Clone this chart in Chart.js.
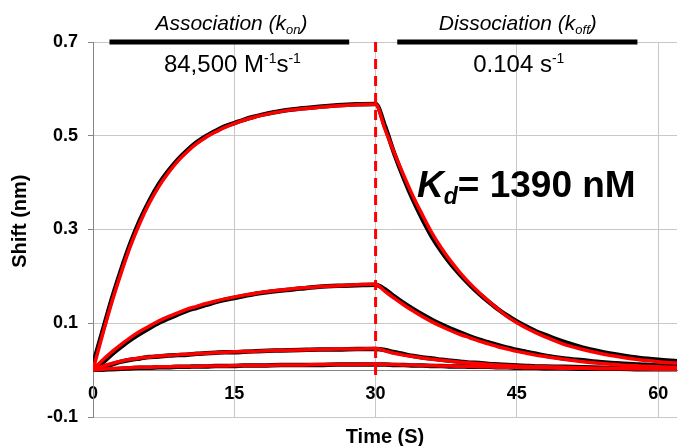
<!DOCTYPE html>
<html>
<head>
<meta charset="utf-8">
<script src="https://cdn.jsdelivr.net/npm/chart.js@4.4.1/dist/chart.umd.min.js"></script>
<style>
  html, body { margin: 0; padding: 0; background: #fff; }
</style>
</head>
<body>
<canvas id="kinetics" width="678" height="446"></canvas>
<script>
// time points (s)
const times = [0, 1, 2, 3, 4, 5, 6, 7, 8, 9, 10, 11, 12, 13, 14, 15, 16, 17, 18, 20, 22, 24, 26, 28, 30,
  31, 32, 33, 34, 35, 36, 37, 38, 39, 40, 41, 42, 43, 44, 45, 46, 47, 48,
  50, 52, 54, 56, 58, 60, 62];

// fitted curves (red), one per concentration
const fit1 = [0, 0.075, 0.145, 0.208, 0.266, 0.315, 0.357, 0.392, 0.421, 0.446, 0.466, 0.483, 0.497, 0.508, 0.518, 0.526, 0.533, 0.539, 0.544, 0.552, 0.557, 0.561, 0.564, 0.566, 0.567,
  0.514, 0.463, 0.415, 0.370, 0.330, 0.292, 0.260, 0.232, 0.207, 0.185, 0.165, 0.147, 0.130, 0.114, 0.101, 0.090, 0.080, 0.071,
  0.055, 0.044, 0.035, 0.028, 0.022, 0.018, 0.015];
const fit2 = [0, 0.021, 0.039, 0.055, 0.070, 0.083, 0.094, 0.105, 0.114, 0.122, 0.130, 0.136, 0.142, 0.147, 0.152, 0.156, 0.160, 0.163, 0.166, 0.171, 0.175, 0.178, 0.180, 0.182, 0.183,
  0.168, 0.153, 0.139, 0.126, 0.114, 0.103, 0.093, 0.084, 0.076, 0.069, 0.062, 0.056, 0.050, 0.045, 0.040, 0.036, 0.032, 0.029,
  0.023, 0.018, 0.014, 0.011, 0.009, 0.007, 0.006];
const fit3 = [0, 0.008, 0.014, 0.019, 0.023, 0.026, 0.028, 0.030, 0.031, 0.033, 0.034, 0.035, 0.036, 0.037, 0.038, 0.039, 0.040, 0.040, 0.041, 0.042, 0.043, 0.044, 0.045, 0.045, 0.046,
  0.041, 0.036, 0.032, 0.029, 0.026, 0.023, 0.021, 0.019, 0.017, 0.015, 0.014, 0.012, 0.011, 0.010, 0.009, 0.008, 0.007, 0.007,
  0.006, 0.005, 0.004, 0.004, 0.003, 0.003, 0.003];
const fit4 = [0, 0.002, 0.003, 0.004, 0.005, 0.006, 0.006, 0.007, 0.007, 0.008, 0.008, 0.008, 0.009, 0.009, 0.009, 0.010, 0.010, 0.010, 0.010, 0.011, 0.011, 0.012, 0.012, 0.012, 0.013,
  0.012, 0.012, 0.011, 0.011, 0.010, 0.010, 0.009, 0.009, 0.008, 0.008, 0.007, 0.007, 0.006, 0.006, 0.006, 0.005, 0.005, 0.005,
  0.004, 0.004, 0.003, 0.003, 0.003, 0.002, 0.002];

// measured sensorgrams (black)
const data1 = [0.012, 0.082, 0.152, 0.215, 0.272, 0.321, 0.362, 0.397, 0.425, 0.449, 0.469, 0.486, 0.499, 0.510, 0.520, 0.527, 0.534, 0.540, 0.545, 0.553, 0.558, 0.562, 0.565, 0.567, 0.568,
  0.520, 0.461, 0.409, 0.362, 0.321, 0.284, 0.253, 0.226, 0.203, 0.182, 0.163, 0.146, 0.130, 0.116, 0.104, 0.093, 0.083, 0.075,
  0.060, 0.048, 0.039, 0.032, 0.026, 0.022, 0.019];
const data2 = [0.004, 0.016, 0.034, 0.050, 0.065, 0.078, 0.090, 0.101, 0.110, 0.119, 0.127, 0.133, 0.139, 0.145, 0.150, 0.154, 0.158, 0.162, 0.165, 0.170, 0.174, 0.178, 0.180, 0.181, 0.182,
  0.172, 0.157, 0.143, 0.130, 0.118, 0.107, 0.097, 0.088, 0.080, 0.072, 0.065, 0.059, 0.053, 0.048, 0.043, 0.039, 0.035, 0.031,
  0.025, 0.021, 0.017, 0.014, 0.012, 0.010, 0.009];
const data3 = [0.002, 0.007, 0.012, 0.018, 0.022, 0.025, 0.028, 0.029, 0.031, 0.032, 0.033, 0.035, 0.036, 0.037, 0.038, 0.038, 0.039, 0.040, 0.041, 0.042, 0.043, 0.044, 0.044, 0.045, 0.045,
  0.043, 0.038, 0.034, 0.030, 0.027, 0.025, 0.022, 0.020, 0.018, 0.016, 0.015, 0.013, 0.012, 0.011, 0.010, 0.009, 0.008, 0.008,
  0.007, 0.006, 0.005, 0.004, 0.004, 0.004, 0.003];
const data4 = [0.001, 0.001, 0.002, 0.003, 0.004, 0.005, 0.005, 0.006, 0.006, 0.007, 0.007, 0.008, 0.008, 0.009, 0.009, 0.009, 0.010, 0.010, 0.010, 0.011, 0.011, 0.011, 0.012, 0.012, 0.012,
  0.012, 0.011, 0.011, 0.010, 0.010, 0.009, 0.009, 0.008, 0.008, 0.007, 0.007, 0.007, 0.006, 0.006, 0.005, 0.005, 0.005, 0.004,
  0.004, 0.003, 0.003, 0.003, 0.002, 0.002, 0.002];

const xTicks = [0, 15, 30, 45, 60];
const yTicks = [-0.1, 0.1, 0.3, 0.5, 0.7];
const switchTime = 30;          // association -> dissociation
const dashSpan = [0.7, -0.015]; // extent of the dashed marker

const FONT = '"Liberation Sans", Arial, sans-serif';
const GRID = '#c8c8c8';
const AXIS = '#858585';

const pts = arr => times.map((t, i) => ({ x: t, y: arr[i] }));

function measured(arr) {
  return { data: pts(arr), borderColor: '#000', borderWidth: 4.5, pointRadius: 0,
    cubicInterpolationMode: 'monotone', order: 2 };
}
function fitted(arr) {
  return { data: pts(arr), borderColor: '#ff0000', borderWidth: 3.5, pointRadius: 0,
    cubicInterpolationMode: 'monotone', order: 1 };
}

// draw a run of text pieces (for sub/superscripts)
function drawRuns(ctx, runs, x, y, align) {
  let total = 0;
  runs.forEach(r => { ctx.font = r.font; total += ctx.measureText(r.t).width; });
  let cx = align === 'center' ? x - total / 2 : x;
  runs.forEach(r => {
    ctx.font = r.font;
    ctx.fillText(r.t, cx, y + (r.dy || 0));
    cx += ctx.measureText(r.t).width;
  });
}

const annotations = {
  id: 'annotations',
  afterDraw(chart) {
    const { ctx, scales: { x, y } } = chart;
    ctx.save();
    ctx.fillStyle = '#000';
    ctx.textBaseline = 'alphabetic';
    ctx.textAlign = 'left';

    // phase bars along the top
    const barY = y.getPixelForValue(0.7);
    [[1.75, 27.2], [32.3, 57.8]].forEach(([a, b]) => {
      const x0 = x.getPixelForValue(a), x1 = x.getPixelForValue(b);
      ctx.fillRect(x0, barY - 2.5, x1 - x0, 5);
    });

    const it = 'italic 21px ' + FONT, itSub = 'italic 13px ' + FONT;
    drawRuns(ctx, [{ t: 'Association (k', font: it }, { t: 'on', font: itSub, dy: 4 }, { t: ')', font: it }],
      x.getPixelForValue(14.7), 30, 'center');
    drawRuns(ctx, [{ t: 'Dissociation (k', font: it }, { t: 'off', font: itSub, dy: 4 }, { t: ')', font: it }],
      x.getPixelForValue(45.1), 30, 'center');

    const rg = '24px ' + FONT, sup = '14px ' + FONT;
    drawRuns(ctx, [{ t: '84,500 M', font: rg }, { t: '-1', font: sup, dy: -9 }, { t: 's', font: rg }, { t: '-1', font: sup, dy: -9 }],
      x.getPixelForValue(14.8), 72, 'center');
    drawRuns(ctx, [{ t: '0.104 s', font: rg }, { t: '-1', font: sup, dy: -9 }],
      x.getPixelForValue(45.2), 72, 'center');

    drawRuns(ctx, [{ t: 'K', font: 'italic bold 37px ' + FONT }, { t: 'd', font: 'italic bold 23px ' + FONT, dy: 7 },
      { t: '= 1390 nM', font: 'bold 37px ' + FONT }], x.getPixelForValue(34.4), 197, 'left');
    ctx.restore();
  }
};

new Chart(document.getElementById('kinetics'), {
  type: 'line',
  data: {
    datasets: [
      fitted(fit1), fitted(fit2), fitted(fit3), fitted(fit4),
      measured(data1), measured(data2), measured(data3), measured(data4),
      {
        data: dashSpan.map(v => ({ x: switchTime, y: v })),
        borderColor: '#ff0000', borderWidth: 3, borderDash: [10, 7],
        pointRadius: 0, tension: 0, order: 0
      }
    ]
  },
  options: {
    responsive: false,
    animation: false,
    layout: { padding: { top: 42, right: 1, bottom: 29, left: 0 } },
    plugins: { legend: { display: false }, tooltip: { enabled: false } },
    scales: {
      x: {
        type: 'linear', min: 0, max: 62,
        position: { y: 0 },
        afterBuildTicks: s => { s.ticks = xTicks.map(v => ({ value: v })); },
        afterFit: s => { s.paddingLeft = 0; s.paddingRight = 0; },
        grid: { color: GRID, drawTicks: false },
        border: { color: AXIS },
        ticks: { color: '#000', font: { family: FONT, size: 18, weight: 'bold' }, padding: 13 },
        title: { display: true, text: 'Time (S)', color: '#000',
          font: { family: FONT, size: 20, weight: 'bold' }, padding: { top: 8, bottom: 0 } }
      },
      y: {
        type: 'linear', min: -0.1, max: 0.7,
        afterBuildTicks: s => { s.ticks = yTicks.map(v => ({ value: v })); },
        afterFit: s => { s.width = 93; },
        grid: { color: GRID, tickColor: AXIS, tickLength: 5 },
        border: { color: AXIS },
        ticks: { color: '#000', font: { family: FONT, size: 18, weight: 'bold' }, padding: 10,
          callback: v => v.toFixed(1) },
        title: { display: true, text: '   Shift (nm)', color: '#000',
          font: { family: FONT, size: 20, weight: 'bold' }, padding: { top: 8, bottom: 0 } }
      }
    }
  },
  plugins: [annotations]
});
</script>
</body>
</html>
